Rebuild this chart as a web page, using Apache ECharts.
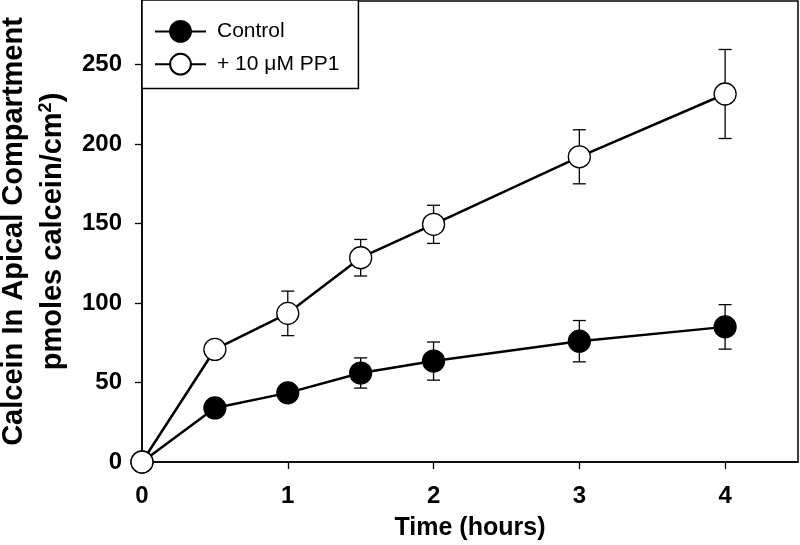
<!DOCTYPE html>
<html>
<head>
<meta charset="utf-8">
<script src="https://cdn.jsdelivr.net/npm/echarts@6/dist/echarts.min.js"></script>
<style>
html,body{margin:0;padding:0;background:#fff;}
#chart{width:800px;height:545px;}
</style>
</head>
<body>
<div id="chart"></div>
<script>
var time = [0, 0.5, 1, 1.5, 2, 3, 4];
var control = [0, 34, 43.5, 56, 63.5, 76, 85];
var controlErr = [0, 3, 4, 9.5, 12, 13, 14];
var pp1 = [0, 70.8, 93.5, 128.5, 149.5, 192, 231.5];
var pp1Err = [0, 4, 14, 11.5, 12, 17, 28];
var xTicks = [0, 1, 2, 3, 4];
var yTicks = [0, 50, 100, 150, 200, 250];
var seriesNames = ['Control', '+ 10 \u03bcM PP1'];

var FONT = '"Liberation Sans", Arial, Helvetica, sans-serif';

function pairs(xs, ys) { return xs.map(function (x, i) { return [x, ys[i]]; }); }
function triples(xs, ys, es) { return xs.map(function (x, i) { return [x, ys[i], es[i]]; }); }

function renderErr(params, api) {
  var x = api.value(0), y = api.value(1), e = api.value(2);
  var top = api.coord([x, y + e]);
  var bot = api.coord([x, y - e]);
  var hw = 6.5;
  var st = { stroke: '#000', lineWidth: 1.3 };
  return {
    type: 'group',
    children: [
      { type: 'line', shape: { x1: top[0], y1: top[1], x2: bot[0], y2: bot[1] }, style: st },
      { type: 'line', shape: { x1: top[0] - hw, y1: top[1], x2: top[0] + hw, y2: top[1] }, style: st },
      { type: 'line', shape: { x1: bot[0] - hw, y1: bot[1], x2: bot[0] + hw, y2: bot[1] }, style: st }
    ]
  };
}

var chart = echarts.init(document.getElementById('chart'), null, { renderer: 'canvas' });
chart.setOption({
  animation: false,
  backgroundColor: '#fff',
  textStyle: { fontFamily: FONT },
  grid: { left: 142, right: 2, top: 1, bottom: 83, show: true, borderColor: '#000', borderWidth: 1.5, backgroundColor: 'transparent', containLabel: false, outerBoundsMode: 'none' },
  legend: {
    data: seriesNames,
    orient: 'vertical',
    left: 142,
    top: 0,
    itemWidth: 51,
    itemHeight: 26,
    itemGap: 10,
    padding: [20, 19, 13, 12],
    backgroundColor: '#fff',
    borderColor: '#000',
    borderWidth: 1.5,
    textStyle: { fontFamily: FONT, fontSize: 21, color: '#000', padding: [0, 0, 0, 6] }
  },
  xAxis: {
    type: 'value',
    min: 0,
    max: 4.5,
    interval: 1,
    name: 'Time (hours)',
    nameLocation: 'middle',
    nameGap: 54,
    nameTextStyle: { fontFamily: FONT, fontSize: 25, fontWeight: 'bold', color: '#000', lineHeight: 25 },
    axisLine: { lineStyle: { color: '#000', width: 1.5 } },
    axisTick: { show: true, length: 7, lineStyle: { color: '#000', width: 1.3 }, customValues: xTicks },
    axisLabel: { customValues: xTicks, margin: 22, fontFamily: FONT, fontSize: 24, fontWeight: 'bold', color: '#000', lineHeight: 24 },
    splitLine: { show: false }
  },
  yAxis: {
    type: 'value',
    min: 0,
    max: 290,
    interval: 50,
    name: '{t|Calcein In Apical Compartment}\n{t|pmoles calcein/cm}{s|2}{t|)}',
    nameLocation: 'middle',
    nameRotate: 90,
    nameGap: 70,
    nameTextStyle: {
      color: '#000',
      rich: {
        t: { fontFamily: FONT, fontSize: 29, fontWeight: 'bold', color: '#000', lineHeight: 39 },
        s: { fontFamily: FONT, fontSize: 18, fontWeight: 'bold', color: '#000', lineHeight: 39, verticalAlign: 'top', padding: [4, 0, 0, 0] }
      }
    },
    axisLine: { show: true, lineStyle: { color: '#000', width: 1.5 } },
    axisTick: { show: true, length: 7, lineStyle: { color: '#000', width: 1.3 }, customValues: yTicks },
    axisLabel: { customValues: yTicks, margin: 20, fontFamily: FONT, fontSize: 24, fontWeight: 'bold', color: '#000' },
    splitLine: { show: false }
  },
  series: [
    {
      type: 'custom',
      name: 'errControl',
      renderItem: renderErr,
      data: triples(time, control, controlErr),
      z: 1,
      silent: true
    },
    {
      type: 'custom',
      name: 'errPP1',
      renderItem: renderErr,
      data: triples(time, pp1, pp1Err),
      z: 1,
      silent: true
    },
    {
      type: 'line',
      name: seriesNames[0],
      data: pairs(time, control),
      symbol: 'circle',
      symbolSize: 22,
      showAllSymbol: true,
      lineStyle: { color: '#000', width: 2.5 },
      itemStyle: { color: '#000', borderColor: '#000', borderWidth: 1.2 },
      z: 3
    },
    {
      type: 'line',
      name: seriesNames[1],
      data: pairs(time, pp1),
      symbol: 'circle',
      symbolSize: 22,
      showAllSymbol: true,
      lineStyle: { color: '#000', width: 2.5 },
      itemStyle: { color: '#fff', borderColor: '#000', borderWidth: 1.3 },
      z: 4
    }
  ]
});
</script>
</body>
</html>
